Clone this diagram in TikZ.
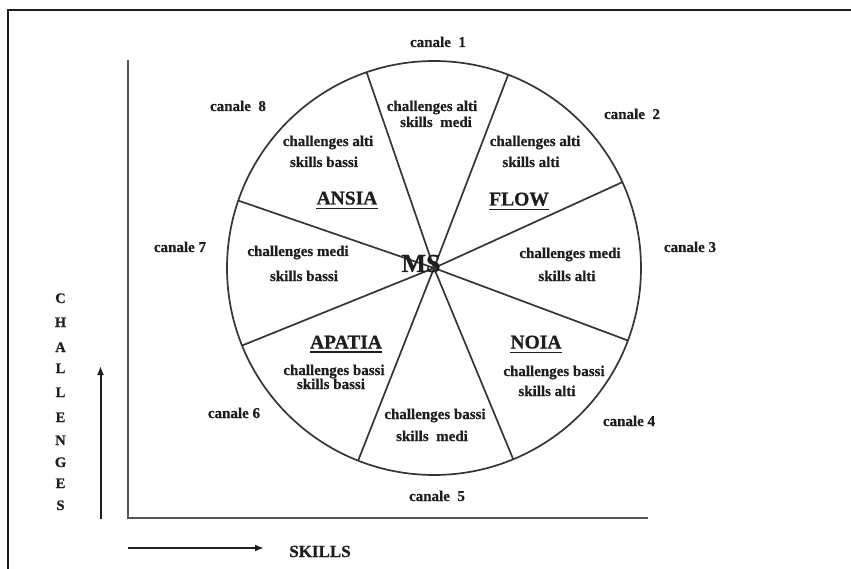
\documentclass[tikz,border=0pt]{standalone}
\usepackage{fontspec}
\setmainfont{Liberation Serif}[BoldFeatures={FakeBold=0.6}]
\usetikzlibrary{arrows.meta}
\definecolor{ink}{HTML}{1e1e1e}
\definecolor{axis}{HTML}{555555}
\tikzset{
  small/.style={anchor=base, inner sep=0pt, text=ink, font=\bfseries\fontsize{15}{15}\selectfont},
  zone/.style={anchor=base, inner sep=0pt, text=ink, font=\bfseries\fontsize{19.5}{19.5}\selectfont},
  letter/.style={anchor=base, inner sep=0pt, text=ink, font=\bfseries\fontsize{14.5}{14.5}\selectfont},
  frameline/.style={draw=ink, line width=1.8pt},
  axisline/.style={draw=axis, line width=2pt},
  wheel/.style={draw=ink!90, line width=1.7pt},
  uline/.style={draw=ink, line width=1.5pt},
  arrowline/.style={draw=ink, line width=2pt, -{Latex[length=9pt,width=7pt]}}
}
\begin{document}
\begin{tikzpicture}[x=1pt,y=-1pt]
\useasboundingbox (0,0) rectangle (851,569);
\fill[white] (0,0) rectangle (851,569);
% frame
\coordinate (f1) at (8,569);
\coordinate (f2) at (8,10);
\coordinate (f3) at (851,10);
\draw[frameline] (f1) -- (f2) -- (f3);
% axes
\coordinate (ax0) at (128,518);
\coordinate (axtop) at (128,60);
\coordinate (axright) at (648,518);
\draw[axisline] (axtop) -- (ax0) -- (axright);
% arrows
\coordinate (ca0) at (100.5,519);
\coordinate (ca1) at (100.5,366);
\draw[arrowline] (ca0) -- (ca1);
\coordinate (sa0) at (128,548);
\coordinate (sa1) at (264,548);
\draw[arrowline] (sa0) -- (sa1);
% wheel
\coordinate (c) at (434,268);
\draw[wheel] (c) circle[radius=207];
\foreach \a in {24.5,69,109,161,202,248.5,292.5,339.5}
  \draw[wheel] (c) -- ++(-\a:207);
% canale labels
\node[small] (k1) at (438,47) {canale\ \ 1};
\node[small] (k2) at (632,119) {canale\ \ 2};
\node[small] (k3) at (690,252) {canale 3};
\node[small] (k4) at (629,426) {canale 4};
\node[small] (k5) at (437,501) {canale\ \ 5};
\node[small] (k6) at (234,418) {canale 6};
\node[small] (k7) at (180,252) {canale 7};
\node[small] (k8) at (238,111) {canale\ \ 8};
% segment texts
\node[small] (t1a) at (432,111) {challenges alti};
\node[small] (t1b) at (436,127) {skills\ \ medi};
\node[small] (t8a) at (328,146) {challenges alti};
\node[small] (t8b) at (324,167) {skills bassi};
\node[small] (t2a) at (535,146) {challenges alti};
\node[small] (t2b) at (531,167) {skills alti};
\node[small] (t7a) at (298,256) {challenges medi};
\node[small] (t7b) at (304,281) {skills bassi};
\node[small] (t3a) at (570,258) {challenges medi};
\node[small] (t3b) at (567,281) {skills alti};
\node[small] (t6a) at (334,375) {challenges bassi};
\node[small] (t6b) at (331,389) {skills bassi};
\node[small] (t4a) at (554,376) {challenges bassi};
\node[small] (t4b) at (547,396) {skills alti};
\node[small] (t5a) at (435,419) {challenges bassi};
\node[small] (t5b) at (432,441) {skills\ \ medi};
% zone labels
\node[zone] (ansia) at (347,204.5) {ANSIA};
\node[zone] (flow) at (519,205.5) {FLOW};
\node[zone] (apatia) at (346,348.5) {APATIA};
\node[zone] (noia) at (536,348.5) {NOIA};
\foreach \n in {ansia,flow,apatia,noia}
  \draw[uline] ([yshift=-3.5pt]\n.south west) -- ([yshift=-3.5pt]\n.south east);
\node[anchor=base, inner sep=0pt, text=ink, font=\bfseries\fontsize{26}{26}\selectfont] (ms) at (421,272) {MS};
% CHALLENGES
\foreach \l/\yy [count=\i] in {C/298,H/322,A/347,L/368,L/392,E/417,N/440,G/462,E/483,S/505}
  \node[letter] (ch\i) at (60.5,\yy+5) {\l};
\node[anchor=base, inner sep=0pt, text=ink, font=\bfseries\fontsize{17}{17}\selectfont] (skills) at (320,557) {SKILLS};
\end{tikzpicture}
\end{document}
